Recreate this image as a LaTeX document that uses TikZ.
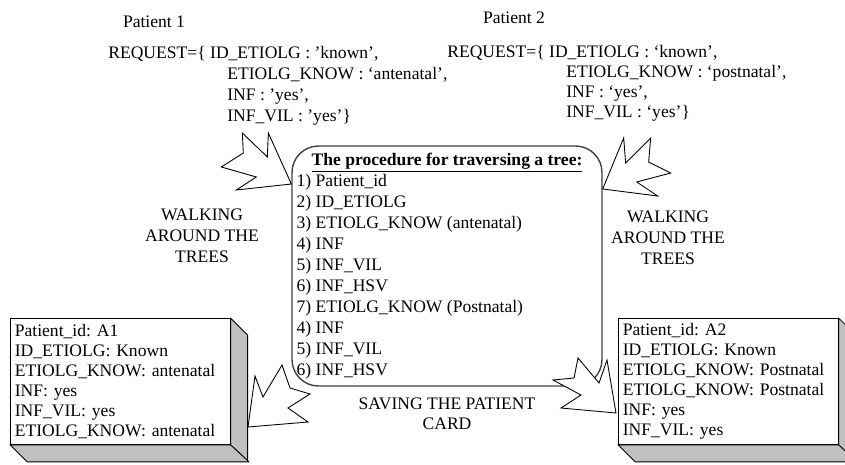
\documentclass[tikz,border=0pt]{standalone}
\usepackage{fontspec}
\setmainfont{Liberation Serif}
\usetikzlibrary{positioning, calc}
\definecolor{cardgray}{RGB}{192,192,192}
\definecolor{boxline}{RGB}{64,64,64}
\frenchspacing

\begin{document}
\begin{tikzpicture}[
  x=0.02cm, y=-0.02cm,
  txt/.style={inner sep=0pt, font=\fontsize{10}{12}\selectfont},
  reqline/.style={txt, anchor=base west},
  walktext/.style={txt, align=center},
  procbox/.style={draw=boxline, rounded corners=15pt, line width=0.8pt,
    minimum width=6.2cm, minimum height=4.8cm},
  itemtext/.style={inner sep=0pt, align=left, font=\fontsize{10}{11.9}\selectfont},
  card/.style={draw, fill=white, line width=0.5pt, anchor=north west, align=left,
    inner xsep=2.5pt, inner ysep=0pt, text width=4.22cm, minimum height=2.52cm,
    font=\fontsize{10}{11.45}\selectfont},
  cardside/.style={draw, fill=cardgray, line width=0.5pt, line join=round},
  bolt/.style={draw, fill=white, line width=0.5pt, line join=miter}
]
\useasboundingbox (0,0) rectangle (845,464);

% Requests
\node[txt] (pat1) at (154,22) {Patient 1};
\node[reqline] (req1a) at (108,58) {REQUEST=\{ ID\_ETIOLG : ’known’,};
\node[reqline] (req1b) at (227,79) {ETIOLG\_KNOW : ‘antenatal’,};
\node[reqline] (req1c) at (227,100) {INF : ’yes’,};
\node[reqline] (req1d) at (227,121) {INF\_VIL : ’yes’\}};

\node[txt] (pat2) at (514,18) {Patient 2};
\node[reqline] (req2a) at (447,57) {REQUEST=\{ ID\_ETIOLG : ‘known’,};
\node[reqline] (req2b) at (566,77) {ETIOLG\_KNOW : ‘postnatal’,};
\node[reqline] (req2c) at (566,97) {INF : ‘yes’,};
\node[reqline] (req2d) at (566,117) {INF\_VIL : ‘yes’\}};

% Procedure box
\node[procbox] (proc) at (447,266) {};
\node[txt, below=4pt of proc.north] (title)
  {\underline{\textbf{The procedure for traversing a tree:}}};
\node[itemtext, anchor=north west] (steps) at ($(proc.north west)+(5,29)$)
  {1) Patient\_id\\
   2) ID\_ETIOLG\\
   3) ETIOLG\_KNOW (antenatal)\\
   4) INF\\
   5) INF\_VIL\\
   6) INF\_HSV\\
   7) ETIOLG\_KNOW (Postnatal)\\
   4) INF\\
   5) INF\_VIL\\
   6) INF\_HSV};

% Side labels
\node[walktext] (walkL) at (202,236) {WALKING\\AROUND THE\\TREES};
\node[walktext] (walkR) at (668,238) {WALKING\\AROUND THE\\TREES};
\node[walktext, font=\fontsize{10}{11.3}\selectfont, below=6pt of proc] (save)
  {SAVING THE PATIENT\\CARD};

% Patient cards
\node[card] (card1) at (10,318)
  {Patient\_id: A1\\
   ID\_ETIOLG: Known\\
   ETIOLG\_KNOW: antenatal\\
   INF: yes\\
   INF\_VIL: yes\\
   ETIOLG\_KNOW: antenatal};
\node[card] (card2) at (618,318)
  {Patient\_id: A2\\
   ID\_ETIOLG: Known\\
   ETIOLG\_KNOW: Postnatal\\
   ETIOLG\_KNOW: Postnatal\\
   INF: yes\\
   INF\_VIL: yes};
\foreach \c in {card1, card2} {
  \draw[cardside] (\c.north east) -- ++(17,17) -- ++(0,126) -- (\c.south east) -- cycle;
  \draw[cardside] (\c.south west) -- ++(17,17) -- ++(222,0) -- (\c.south east) -- cycle;
}

% Jagged arrows
\coordinate (tipA) at (proc.west |- 0,184);
\coordinate (tipB) at (proc.east |- 0,189);
\coordinate (tipC) at (248,427);
\coordinate (tipD) at (616,413);
\draw[bolt] (tipA) -- +(-55,6) -- +(-35,-7) -- +(-70,-17) -- +(-48,-31)
  -- +(-49,-51) -- +(-24,-27) -- +(-23,-51) -- cycle;
\draw[bolt] (tipB) -- +(21,-51) -- +(23,-26) -- +(48,-51) -- +(46,-27)
  -- +(68,-16) -- +(34,-7) -- +(55,7) -- cycle;
\draw[bolt] (tipC) -- +(7,-51) -- +(15,-30) -- +(34,-62) -- +(42,-39)
  -- +(62,-33) -- +(40,-19) -- +(60,-5) -- cycle;
\draw[bolt] (tipD) -- +(-9,-53) -- +(-17,-30) -- +(-38,-55) -- +(-42,-35)
  -- +(-63,-33) -- +(-35,-18) -- +(-55,-5) -- cycle;

\end{tikzpicture}
\end{document}
